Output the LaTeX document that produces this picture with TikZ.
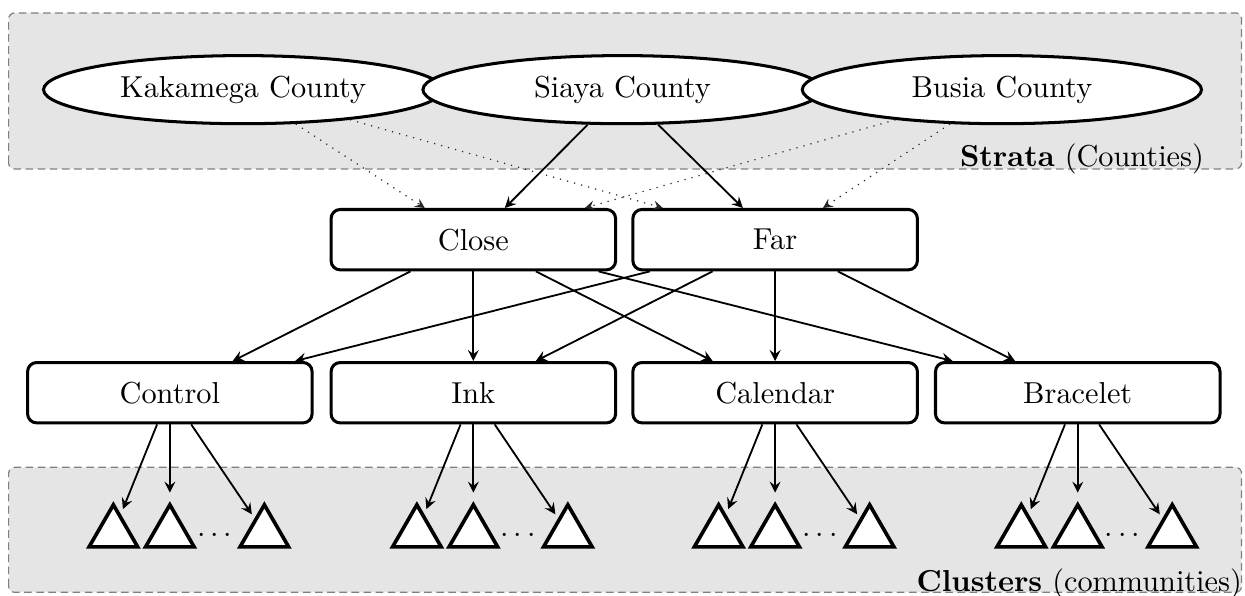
\documentclass[tikz,border=0pt]{standalone}
\usetikzlibrary{shapes.geometric}
\begin{document}
\begin{tikzpicture}[>=stealth,
    county/.style={ellipse, draw, line width=1pt, fill=white, minimum width=4.63cm, minimum height=0.79cm},
    arm/.style={draw, line width=1pt, rounded corners=3pt, fill=white, minimum width=3.3cm, minimum height=0.7cm},
    cluster/.style={regular polygon, regular polygon sides=3, draw, line width=1.2pt, fill=white, minimum size=0.65cm, inner sep=0pt, outer sep=2pt},
    region/.style={draw=gray, dash pattern=on 2.5pt off 1.5pt, fill=gray!20, rounded corners=2pt},
    link/.style={->, semithick},
    weak/.style={->, dotted, thin, black!85}]
\useasboundingbox (0,0) rectangle (14.44,6.91);
% shaded bands
\draw[region](0.1,4.95) rectangle (14.4,6.76);
\draw[region](0.1,0.04) rectangle (14.4,1.49);
\node[anchor=base east, inner sep=0pt] (strata) at (13.97,4.98) {\textbf{Strata} (Counties)};
\node[anchor=base east, inner sep=0pt] (clusters) at (14.41,0.05) {\textbf{Clusters} (communities)};
% counties
\node[county] (kakamega) at (2.82,5.87) {Kakamega County};
\node[county] (siaya) at (7.22,5.87) {Siaya County};
\node[county] (busia) at (11.62,5.87) {Busia County};
% distance
\node[arm] (close) at (5.49,4.13) {Close};
\node[arm] (far) at (8.99,4.13) {Far};
% treatments
\node[arm] (control) at (1.97,2.355) {Control};
\node[arm] (ink) at (5.49,2.355) {Ink};
\node[arm] (calendar) at (8.99,2.355) {Calendar};
\node[arm] (bracelet) at (12.5,2.355) {Bracelet};
\draw[link](siaya)--(close);
\draw[link](siaya)--(far);
\foreach \c in {kakamega,busia}
  \foreach \s in {close,far}
    \draw[weak](\c)--(\s);
\foreach \s in {close,far}
  \foreach \t in {control,ink,calendar,bracelet}
    \draw[link](\s)--(\t);
% clusters
\foreach \x/\t in {1.97/control,5.49/ink,8.99/calendar,12.5/bracelet}{
  \node[cluster] (\t1) at (\x-0.655,0.73) {};
  \node[cluster] (\t2) at (\x,0.73) {};
  \node[anchor=base] (\t dots) at (\x+0.52,0.62) {$\cdots$};
  \node[cluster] (\t3) at (\x+1.096,0.73) {};
  \foreach \k in {1,2,3}
    \draw[link](\t)--(\t\k);
}
\end{tikzpicture}
\end{document}
